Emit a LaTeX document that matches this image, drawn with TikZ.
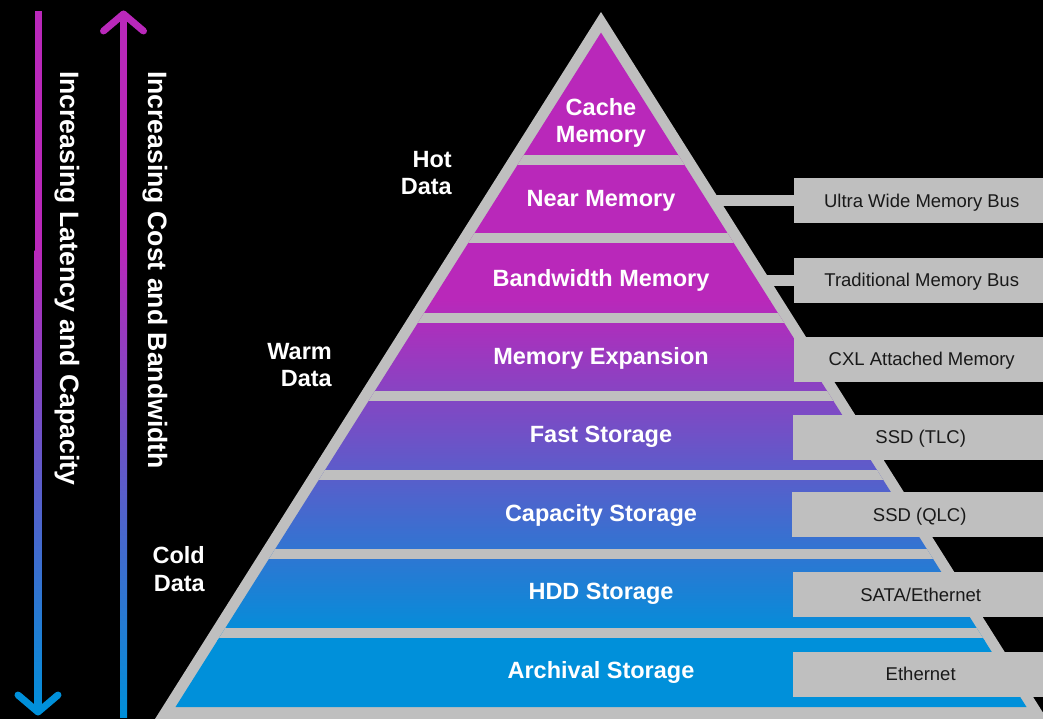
\documentclass[tikz,border=0pt]{standalone}
\usepackage{fontspec}
\setmainfont{Liberation Sans}
\usetikzlibrary{calc}
\definecolor{hotpink}{HTML}{B928BA}
\definecolor{coldblue}{HTML}{0090DA}
\definecolor{rim}{HTML}{BFBFBF}
\tikzset{
TIER/.style ={text=white,font=\fontsize{23.5}{27}\selectfont\bfseries,align=center,anchor=base},
DATA/.style ={text=white,font=\fontsize{23.5}{27.5}\selectfont\bfseries,align=right,anchor=base east,inner sep=0pt},
AXIS/.style ={text=white,font=\fontsize{26.6}{32}\selectfont\bfseries,rotate=-90,anchor=base west,inner sep=0pt},
BUS/.style ={fill=rim,text=black!90,font=\fontsize{18.5}{22}\selectfont,minimum width=255pt,minimum height=45pt,text height=13.2pt,text depth=0pt,inner sep=0pt,anchor=west},
BAND/.style={fill=rim},
TIP/.style ={line width=7pt,line cap=round,line join=round},
BAR/.style ={draw=rim,line width=11pt},
}
\begin{document}
\begin{tikzpicture}[x=1pt,y=-1pt] %memory and storage tiers
	\useasboundingbox (0,0) rectangle (1043,719);
	\clip (0,0) rectangle (1043,719);
	\fill[black] (0,0) rectangle (1043,719);
	% the two arrows
	\coordinate (latTop) at (38,10.7);
	\coordinate (latEnd) at (38,712);
	\coordinate (costTip) at (123.5,14);
	\coordinate (costEnd) at (123.5,717);
	\fill[hotpink] ($(latTop)+(-3.5,0)$) rectangle ($(latTop)+(3.5,241)$);
	\shade[top color=hotpink,bottom color=coldblue] ($(latTop)+(-3.5,240)$) rectangle ($(latEnd)+(3.5,0)$);
	\draw[TIP,coldblue] ($(latEnd)+(-20,-17)$) -- (latEnd) -- ($(latEnd)+(20,-17)$);
	\fill[hotpink] ($(costTip)+(-3.5,0)$) rectangle ($(costTip)+(3.5,237)$);
	\shade[top color=hotpink,bottom color=coldblue] ($(costTip)+(-3.5,236)$) rectangle ($(costEnd)+(3.5,0)$);
	\draw[TIP,hotpink] ($(costTip)+(-20,17)$) -- (costTip) -- ($(costTip)+(20,17)$);
	\node[AXIS] (latency) at (60,71) {Increasing Latency and Capacity};
	\node[AXIS] (cost) at (148,71) {Increasing Cost and Bandwidth};
	% pyramid
	\fill[rim] (601,12) -- (155,719) -- (1047,719) -- cycle;
	\begin{scope}
	\clip (601,32.6) -- (175.5,707) -- (1026.5,707) -- cycle;
	\fill[hotpink] (150,20) rectangle (1050,301);
	\shade[top color=hotpink,bottom color=coldblue] (150,300) rectangle (1050,640);
	\fill[coldblue] (150,639) rectangle (1050,720);
	\foreach \y in {155,233,313,391,470,549,628}
		\fill[BAND] (150,\y) rectangle (1050,\y+10);
	\end{scope}
	\node[TIER] (cache) at (601,143) {Cache\\Memory};
	\node[TIER] (near) at (601,207) {Near Memory};
	\node[TIER] (bandwidth) at (601,286) {Bandwidth Memory};
	\node[TIER] (expansion) at (601,364) {Memory Expansion};
	\node[TIER] (fast) at (601,442) {Fast Storage};
	\node[TIER] (capacity) at (601,521) {Capacity Storage};
	\node[TIER] (hdd) at (601,599) {HDD Storage};
	\node[TIER] (archival) at (601,678) {Archival Storage};
	\node[DATA] (hot) at (452,195) {Hot\\Data};
	\node[DATA] (warm) at (332,386.5) {Warm\\Data};
	\node[DATA] (cold) at (205,591) {Cold\\Data};
	% links on the right
	\node[BUS] (uwbus) at (794,200.8) {Ultra Wide Memory Bus};
	\node[BUS] (tmbus) at (794,280) {Traditional Memory Bus};
	\node[BUS] (cxlbus) at (794,359) {CXL Attached Memory};
	\node[BUS] (tlcbus) at (793,437) {SSD (TLC)};
	\node[BUS] (qlcbus) at (792,514.5) {SSD (QLC)};
	\node[BUS] (satabus) at (793,594.5) {SATA/Ethernet};
	\node[BUS] (ethbus) at (793,674) {Ethernet};
	\coordinate (uwEdge) at (713,200.8);
	\coordinate (tmEdge) at (764,280);
	\draw[BAR] (uwEdge) -- (uwbus.west);
	\draw[BAR] (tmEdge) -- (tmbus.west);
\end{tikzpicture}
\end{document}
